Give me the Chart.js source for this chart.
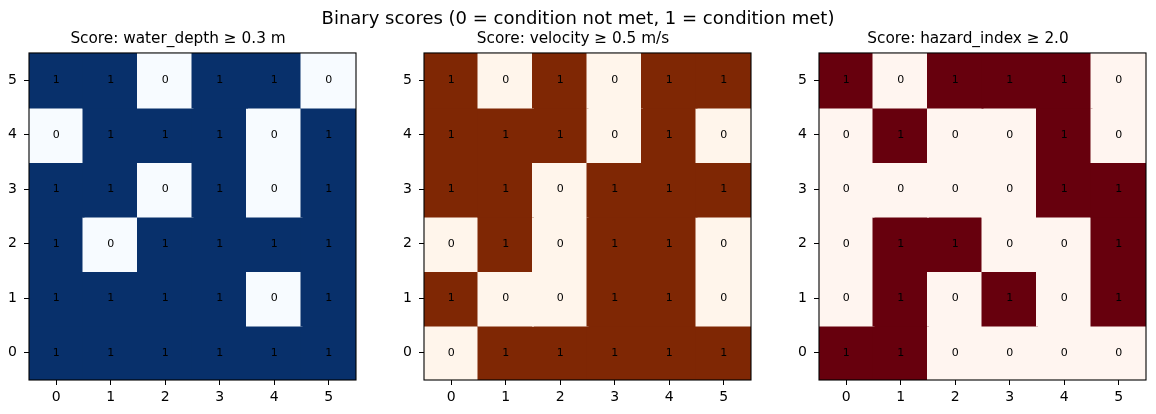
<!DOCTYPE html>
<html>
<head>
<meta charset="UTF-8">
<title>Binary scores</title>
<script src="https://cdn.jsdelivr.net/npm/chart.js"></script>
<style>
  body { margin: 0; background: #fff; width: 1156px; height: 414px; position: relative; overflow: hidden; font-family: "DejaVu Sans", sans-serif; }
  #mainTitle { position: absolute; left: 0; top: 9px; width: 1156px; text-align: center; font-size: 18px; line-height: 18px; color: #000; z-index: 2; }
  .panel { position: absolute; top: 0; width: 366px; height: 414px; }
</style>
</head>
<body>
<div id="mainTitle">Binary scores (0 = condition not met, 1 = condition met)</div>
<div class="panel" style="left:0px"><canvas id="c0"></canvas></div>
<div class="panel" style="left:395px"><canvas id="c1"></canvas></div>
<div class="panel" style="left:790px"><canvas id="c2"></canvas></div>

<script>
// column labels (x) and row values, rows listed top (5) to bottom (0)
const colLabels = ['0', '1', '2', '3', '4', '5'];
const rowValues = [5, 4, 3, 2, 1, 0];
const yTicks = [0, 1, 2, 3, 4, 5];

const waterDepthScore = [
  [1, 1, 0, 1, 1, 0],
  [0, 1, 1, 1, 0, 1],
  [1, 1, 0, 1, 0, 1],
  [1, 0, 1, 1, 1, 1],
  [1, 1, 1, 1, 0, 1],
  [1, 1, 1, 1, 1, 1]
];
const velocityScore = [
  [1, 0, 1, 0, 1, 1],
  [1, 1, 1, 0, 1, 0],
  [1, 1, 0, 1, 1, 1],
  [0, 1, 0, 1, 1, 0],
  [1, 0, 0, 1, 1, 0],
  [0, 1, 1, 1, 1, 1]
];
const hazardScore = [
  [1, 0, 1, 1, 1, 0],
  [0, 1, 0, 0, 1, 0],
  [0, 0, 0, 0, 1, 1],
  [0, 1, 1, 0, 0, 1],
  [0, 1, 0, 1, 0, 1],
  [1, 1, 0, 0, 0, 0]
];

const panelTitles = ['Score: water_depth \u2265 0.3 m', 'Score: velocity \u2265 0.5 m/s', 'Score: hazard_index \u2265 2.0'];

function makePanel(id, grid, colors, title) {
  const datasets = grid.map((row, r) => ({
    data: row.map(() => [rowValues[r] - 0.5, rowValues[r] + 0.5]),
    backgroundColor: row.map(v => colors[v]),
    borderWidth: 0,
    inflateAmount: 1,
    barPercentage: 1,
    categoryPercentage: 1
  }));

  // cell numbers + full box around the image
  const cellPlugin = {
    id: 'cells' + id,
    afterDatasetsDraw(chart) {
      const { ctx, scales: { x, y } } = chart;
      ctx.save();
      ctx.font = '11px "DejaVu Sans"';
      ctx.fillStyle = '#000';
      ctx.textAlign = 'center';
      ctx.textBaseline = 'middle';
      grid.forEach((row, r) => row.forEach((v, c) => {
        ctx.fillText(String(v), x.getPixelForValue(c), y.getPixelForValue(rowValues[r]));
      }));
      ctx.restore();
    },
    afterDraw(chart) {
      const { ctx, chartArea: a } = chart;
      ctx.save();
      ctx.strokeStyle = '#000';
      ctx.lineWidth = 1.1;
      ctx.strokeRect(a.left, a.top, a.right - a.left, a.bottom - a.top);
      ctx.restore();
    }
  };

  return new Chart(document.getElementById(id), {
    type: 'bar',
    data: { labels: colLabels, datasets: datasets },
    options: {
      responsive: true,
      maintainAspectRatio: false,
      animation: false,
      layout: { padding: { left: 0, right: 10, top: 0, bottom: 0 } },
      plugins: {
        legend: { display: false },
        tooltip: { enabled: false },
        title: {
          display: true,
          text: title,
          color: '#000',
          font: { family: 'DejaVu Sans', size: 15.3, weight: 'normal' },
          padding: { top: 30, bottom: 4.6 }
        }
      },
      scales: {
        x: {
          type: 'category',
          stacked: true,
          offset: true,
          grid: { offset: false, drawOnChartArea: false, tickLength: 5, color: '#000', lineWidth: 1 },
          border: { display: false },
          ticks: { color: '#000', padding: 4, font: { family: 'DejaVu Sans', size: 14 } },
          afterFit(axis) { axis.height = 34; }
        },
        y: {
          type: 'linear',
          min: -0.5,
          max: 5.5,
          grid: { drawOnChartArea: false, tickLength: 5, color: '#000', lineWidth: 1 },
          border: { display: false },
          ticks: { color: '#000', padding: 7, font: { family: 'DejaVu Sans', size: 14 } },
          afterBuildTicks(axis) { axis.ticks = yTicks.map(v => ({ value: v })); },
          afterFit(axis) { axis.width = 29; }
        }
      }
    },
    plugins: [cellPlugin]
  });
}

makePanel('c0', waterDepthScore, ['#f7fbff', '#08306b'], panelTitles[0]);
makePanel('c1', velocityScore, ['#fff5eb', '#7f2704'], panelTitles[1]);
makePanel('c2', hazardScore, ['#fff5f0', '#67000d'], panelTitles[2]);
</script>
</body>
</html>
